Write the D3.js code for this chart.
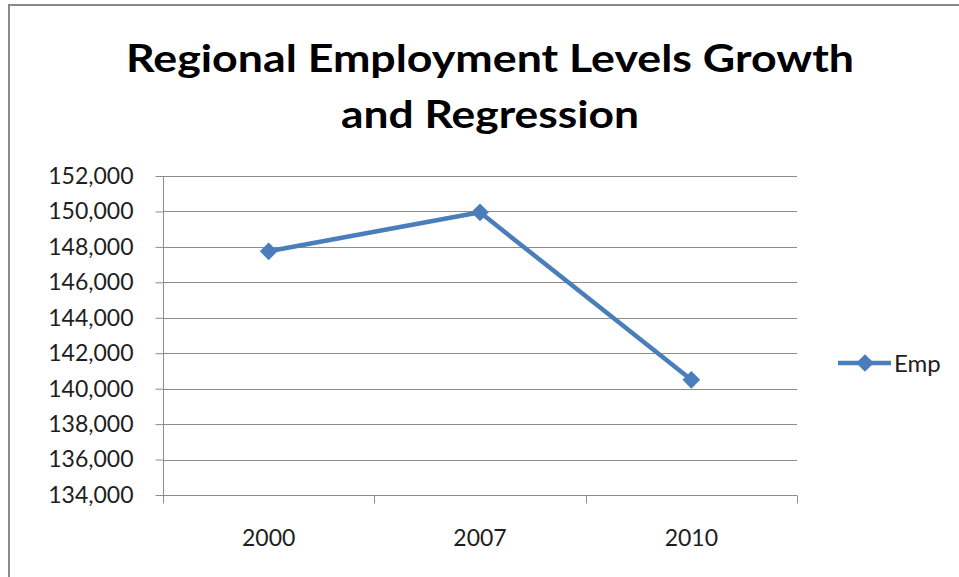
<!DOCTYPE html>
<html>
<head>
<meta charset="utf-8">
<script src="https://cdn.jsdelivr.net/npm/d3@7"></script>
<style>
  html, body { margin: 0; padding: 0; background: #fff; }
  svg { display: block; }
  text { font-family: Lato, "Open Sans", sans-serif; }
</style>
</head>
<body>
<svg id="chart" width="959" height="577"></svg>
<script>
// Employment by year
const years = ["2000", "2007", "2010"];
const employment = [147750, 149950, 140500];
const yTicks = [134000, 136000, 138000, 140000, 142000, 144000, 146000, 148000, 150000, 152000];
const seriesName = "Emp";
const titleLines = ["Regional Employment Levels Growth", "and Regression"];

const svg = d3.select("#chart");
const blue = "#4a7ebb";
const gridColor = "#8c8c8c";
const labelColor = "#1e1e1e";

// outer chart frame
svg.append("rect")
  .attr("x", 9).attr("y", 5)
  .attr("width", 980).attr("height", 600)
  .attr("fill", "#fff")
  .attr("stroke", "#8a8a8a")
  .attr("stroke-width", 2);

// title
const title = svg.append("g");
title.append("text")
  .attr("x", 490).attr("y", 72)
  .attr("text-anchor", "middle")
  .attr("font-size", 38).attr("font-weight", "bold").attr("fill", "#000")
  .attr("textLength", 728).attr("lengthAdjust", "spacingAndGlyphs")
  .text(titleLines[0]);
title.append("text")
  .attr("x", 490).attr("y", 128)
  .attr("text-anchor", "middle")
  .attr("font-size", 38).attr("font-weight", "bold").attr("fill", "#000")
  .attr("textLength", 298).attr("lengthAdjust", "spacingAndGlyphs")
  .text(titleLines[1]);

const plotLeft = 163, plotRight = 797, plotTop = 176, plotBottom = 495;

const x = d3.scaleBand().domain(years).range([plotLeft, plotRight]).padding(0);
const y = d3.scaleLinear().domain([134000, 152000]).range([plotBottom, plotTop]);

// horizontal gridlines
svg.append("g")
  .selectAll("line")
  .data(yTicks)
  .join("line")
  .attr("x1", plotLeft).attr("x2", plotRight)
  .attr("y1", d => Math.round(y(d)) + 0.5).attr("y2", d => Math.round(y(d)) + 0.5)
  .attr("stroke", gridColor).attr("stroke-width", 1);

// y axis
const yAxis = svg.append("g")
  .attr("transform", `translate(${plotLeft + 0.5},0)`)
  .call(d3.axisLeft(y).tickValues(yTicks).tickSize(8).tickPadding(22)
    .tickFormat(d3.format(",")));
yAxis.select(".domain").attr("stroke", gridColor).attr("d", `M0,${plotTop}V${plotBottom}`);
yAxis.selectAll(".tick line").attr("stroke", gridColor);
yAxis.selectAll(".tick text")
  .attr("font-size", 23).attr("fill", labelColor)
  .attr("font-family", "Lato, sans-serif");

// x axis
const xAxis = svg.append("g")
  .attr("transform", `translate(0,${Math.round(plotBottom) + 0.5})`)
  .call(d3.axisBottom(x).tickSize(0).tickPadding(34));
xAxis.select(".domain").attr("stroke", gridColor).attr("d", `M${plotLeft},0H${plotRight}`);
xAxis.selectAll(".tick text")
  .attr("font-size", 23).attr("fill", labelColor)
  .attr("font-family", "Lato, sans-serif");
// category boundary tick marks
const boundaries = [plotLeft].concat(years.map(d => x(d) + x.bandwidth()));
xAxis.append("g").selectAll("line")
  .data(boundaries)
  .join("line")
  .attr("x1", d => Math.round(d) + 0.5).attr("x2", d => Math.round(d) + 0.5)
  .attr("y1", 0).attr("y2", 8)
  .attr("stroke", gridColor);

// series line
const pts = years.map((yr, i) => [x(yr) + x.bandwidth() / 2, y(employment[i])]);
svg.append("path")
  .attr("d", d3.line()(pts))
  .attr("fill", "none")
  .attr("stroke", blue)
  .attr("stroke-width", 4.5)
  .attr("stroke-linejoin", "round");

// diamond markers
const diamond = d3.symbol().type(d3.symbolDiamond2).size(200);
svg.append("g").selectAll("path")
  .data(pts)
  .join("path")
  .attr("d", diamond)
  .attr("transform", d => `translate(${d[0]},${d[1]})`)
  .attr("fill", blue);

// legend
const legend = svg.append("g").attr("transform", "translate(838,363)");
legend.append("line")
  .attr("x1", 0).attr("x2", 53).attr("y1", 0).attr("y2", 0)
  .attr("stroke", blue).attr("stroke-width", 4.5);
legend.append("path")
  .attr("d", diamond)
  .attr("transform", "translate(27,0)")
  .attr("fill", blue);
legend.append("text")
  .attr("x", 56).attr("y", 8.5)
  .attr("font-size", 24).attr("fill", labelColor)
  .text(seriesName);
</script>
</body>
</html>
